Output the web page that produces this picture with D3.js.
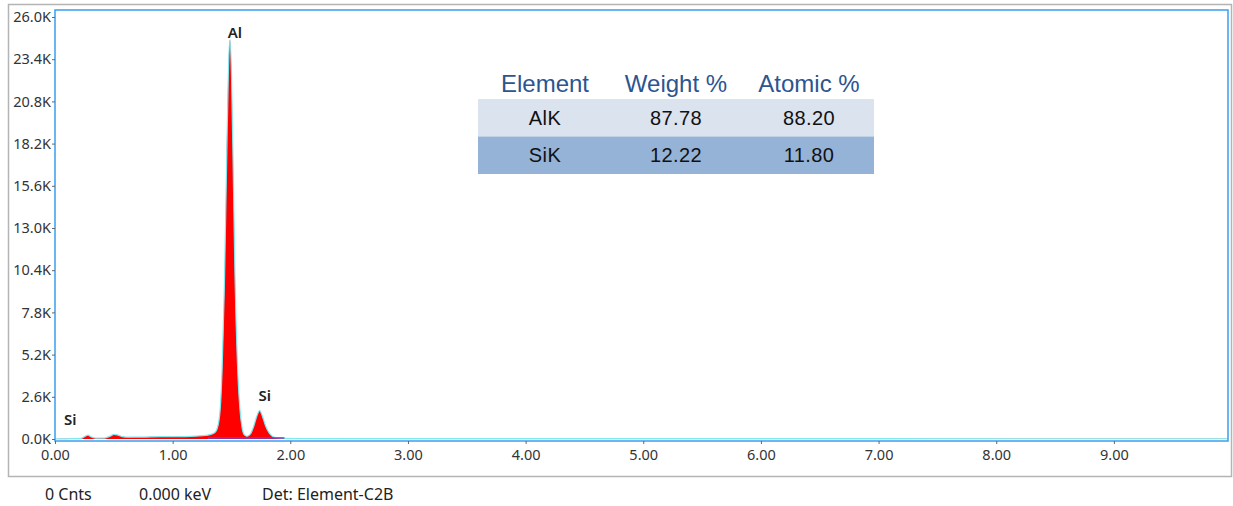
<!DOCTYPE html>
<html>
<head>
<meta charset="utf-8">
<script src="https://cdn.jsdelivr.net/npm/d3@7"></script>
<style>
  body { margin: 0; background: #fff; }
  svg text { font-family: "Noto Sans", "Open Sans", sans-serif; }
</style>
</head>
<body>
<div id="chart"></div>
<script>
////////////////////////////////////////////////////////////
//////////////////////// Data //////////////////////////////
////////////////////////////////////////////////////////////
// spectrum (keV, counts)
var energy = [0.00, 0.08, 0.15, 0.22, 0.25, 0.28, 0.31, 0.35, 0.42, 0.47, 0.50, 0.53, 0.57, 0.63,
              0.75, 0.90, 1.00, 1.10, 1.20, 1.28, 1.34, 1.37, 1.40, 1.42, 1.44, 1.46, 1.475, 1.487,
              1.50, 1.515, 1.53, 1.55, 1.57, 1.59, 1.61, 1.63, 1.66, 1.69, 1.715, 1.74, 1.765, 1.79,
              1.82, 1.85, 1.89, 1.95, 2.10, 3.00, 5.00, 7.00, 9.97];
var counts = [0, 10, 20, 40, 140, 240, 120, 50, 60, 180, 280, 250, 150, 110,
              120, 150, 140, 150, 180, 220, 320, 500, 1500, 4200, 9500, 17500, 23000, 24600,
              22500, 16500, 10000, 4800, 2000, 700, 250, 170, 300, 800, 1400, 1750, 1350, 800,
              380, 160, 70, 40, 30, 25, 20, 18, 15];

var yTicks = [0, 2600, 5200, 7800, 10400, 13000, 15600, 18200, 20800, 23400, 26000];
var xTicks = [0, 1, 2, 3, 4, 5, 6, 7, 8, 9];

var peakNames = ["Al", "Si", "Si"];
var peakEnergy = [1.487, 1.74, 0.13];
var peakCounts = [24600, 1750, 250];

var tableHead = ["Element", "Weight %", "Atomic %"];
var tableElem = ["AlK", "SiK"];
var tableWeight = ["87.78", "12.22"];
var tableAtomic = ["88.20", "11.80"];

var statusText = ["0 Cnts", "0.000 keV", "Det: Element-C2B"];

////////////////////////////////////////////////////////////
//////////////////////// Set-Up ////////////////////////////
////////////////////////////////////////////////////////////
var width = 1233, height = 506;
var plot = {left: 55, top: 10, right: 1228, bottom: 441};

var svg = d3.select("#chart").append("svg")
  .attr("width", width)
  .attr("height", height);

// outer frame
svg.append("rect")
  .attr("x", 8.5).attr("y", 4.5)
  .attr("width", 1223).attr("height", 472)
  .attr("fill", "none")
  .attr("stroke", "#b4b4b4")
  .attr("stroke-width", 1.5);

var x = d3.scaleLinear().domain([0, 9.97]).range([plot.left, plot.right]);
var y = d3.scaleLinear().domain([0, 26000]).range([439, 17]);

// spectrum
var pts = energy.map(function(e, i) { return [e, counts[i]]; });

var area = d3.area()
  .x(function(d) { return x(d[0]); })
  .y0(y(0))
  .y1(function(d) { return y(d[1]); })
  .curve(d3.curveMonotoneX);

var line = d3.line()
  .x(function(d) { return x(d[0]); })
  .y(function(d) { return y(d[1]); })
  .curve(d3.curveMonotoneX);

svg.append("path")
  .datum(pts)
  .attr("d", area)
  .attr("fill", "#ff0000");

svg.append("path")
  .datum(pts)
  .attr("d", line)
  .attr("fill", "none")
  .attr("stroke", "#7fe9f0")
  .attr("stroke-width", 1.2);

// background fit line (purple)
svg.append("line")
  .attr("x1", x(1.3)).attr("x2", x(1.95))
  .attr("y1", y(60)).attr("y2", y(60))
  .attr("stroke", "#7a3cc8")
  .attr("stroke-width", 1.5);

// plot frame
svg.append("rect")
  .attr("x", plot.left).attr("y", plot.top)
  .attr("width", plot.right - plot.left).attr("height", plot.bottom - plot.top)
  .attr("fill", "none")
  .attr("stroke", "#3a9ff0")
  .attr("stroke-width", 1.5);

// y axis
var yAxis = d3.axisLeft(y)
  .tickValues(yTicks)
  .tickSize(3)
  .tickPadding(1)
  .tickFormat(function(d) { return (d / 1000).toFixed(1) + "K"; });

var gy = svg.append("g")
  .attr("transform", "translate(" + plot.left + ",0)")
  .call(yAxis);
gy.select(".domain").remove();
gy.selectAll("line").attr("stroke", "#666");
gy.selectAll("text").attr("font-size", 14.5).attr("fill", "#333")
  .style("font-family", "'Noto Sans', sans-serif");

// x axis
var xAxis = d3.axisBottom(x)
  .tickValues(xTicks)
  .tickSize(3)
  .tickPadding(6)
  .tickFormat(function(d) { return d.toFixed(2); });

var gx = svg.append("g")
  .attr("transform", "translate(0," + plot.bottom + ")")
  .call(xAxis);
gx.select(".domain").remove();
gx.selectAll("line").attr("stroke", "#666");
gx.selectAll("text").attr("font-size", 14.5).attr("fill", "#333")
  .style("font-family", "'Noto Sans', sans-serif");

// peak labels
svg.selectAll(".peakLabel")
  .data(peakNames)
  .enter()
  .append("text")
  .attr("class", "peakLabel")
  .attr("x", function(d, i) { return x(peakEnergy[i]) + (i === 2 ? 0 : 5); })
  .attr("y", function(d, i) { return y(peakCounts[i]) - (i === 0 ? 2 : 10); })
  .attr("text-anchor", "middle")
  .attr("font-size", 15)
  .attr("font-weight", 600)
  .attr("fill", "#222")
  .text(function(d) { return d; });

////////////////////////////////////////////////////////////
//////////////////////// Table /////////////////////////////
////////////////////////////////////////////////////////////
var tab = {x: 478, w: 396, headY: 92, rowTop: 99, rowH: 37.5};
var colX = [545, 676, 809];
var rowFill = ["#dbe3ef", "#95b3d7"];

var table = svg.append("g").attr("class", "table");

tableHead.forEach(function(h, i) {
  table.append("text")
    .attr("x", colX[i]).attr("y", tab.headY)
    .attr("text-anchor", "middle")
    .attr("font-size", 24)
    .attr("fill", "#2b5590")
    .style("font-family", "'Liberation Sans', Arial, sans-serif")
    .text(h);
});

tableElem.forEach(function(el, r) {
  var top = tab.rowTop + r * tab.rowH;
  table.append("rect")
    .attr("x", tab.x).attr("y", top)
    .attr("width", tab.w).attr("height", tab.rowH)
    .attr("fill", rowFill[r]);
  [el, tableWeight[r], tableAtomic[r]].forEach(function(v, c) {
    table.append("text")
      .attr("x", colX[c]).attr("y", top + 25.5)
      .attr("text-anchor", "middle")
      .attr("font-size", 20)
      .attr("letter-spacing", 0.4)
      .attr("fill", "#111")
      .style("font-family", "'Liberation Sans', Arial, sans-serif")
      .text(v);
  });
});

// status line under the chart
var statusX = [45, 139, 262];
statusText.forEach(function(t, i) {
  svg.append("text")
    .attr("x", statusX[i]).attr("y", 500)
    .attr("font-size", 16)
    .attr("fill", "#222")
    .text(t);
});
</script>
</body>
</html>
